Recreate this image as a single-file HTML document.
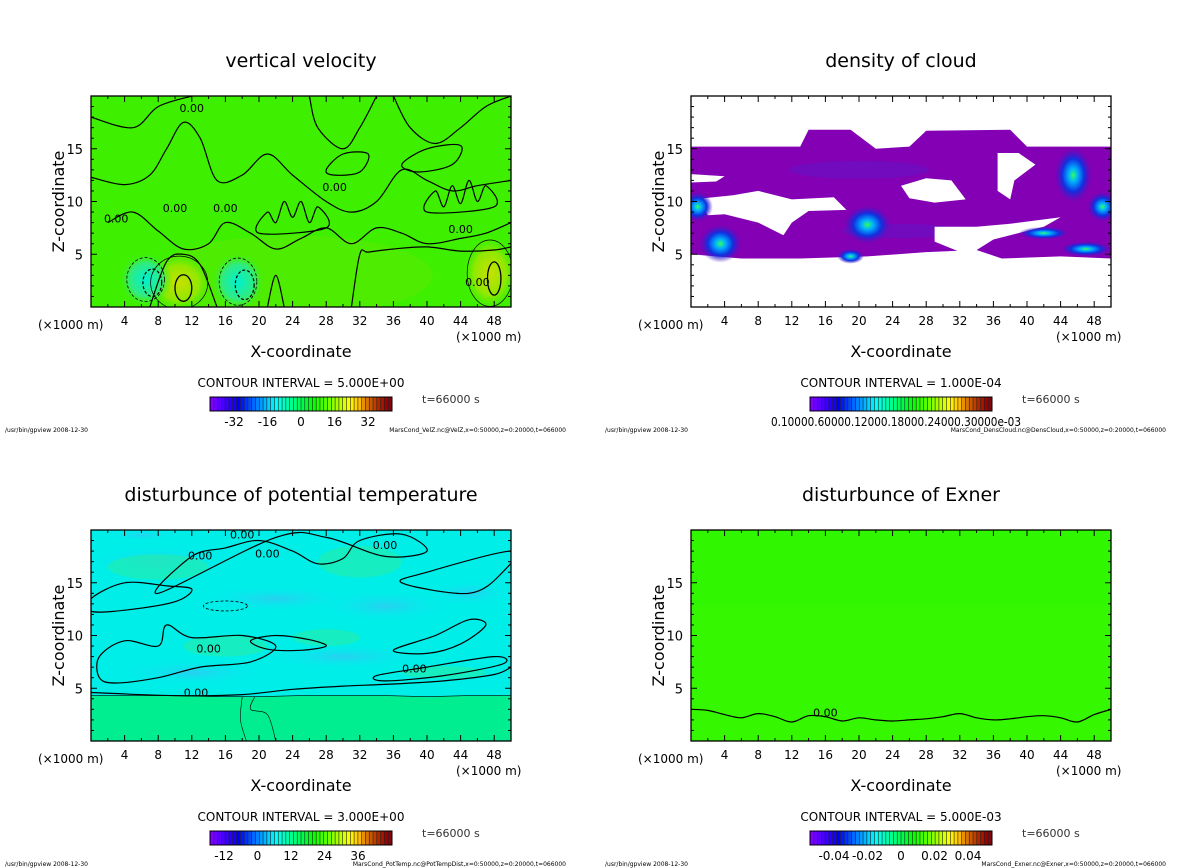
<!DOCTYPE html>
<html><head><meta charset="utf-8">
<style>
html,body{margin:0;padding:0;background:#fff;}
svg{display:block;font-family:"DejaVu Sans","Liberation Sans",sans-serif;}
</style></head>
<body>
<svg id="fig" width="1200" height="868" viewBox="0 0 1200 868" xmlns="http://www.w3.org/2000/svg">
<defs>
<radialGradient id="gy" cx="50%" cy="50%" r="50%"><stop offset="0" stop-color="#c8e000"/><stop offset="0.6" stop-color="#90e800"/><stop offset="1" stop-color="#44ee00" stop-opacity="0"/></radialGradient>
<radialGradient id="gc" cx="50%" cy="50%" r="50%"><stop offset="0" stop-color="#00f0d0"/><stop offset="0.6" stop-color="#30eb80"/><stop offset="1" stop-color="#44ee00" stop-opacity="0"/></radialGradient>
<radialGradient id="gb" cx="50%" cy="50%" r="50%"><stop offset="0" stop-color="#30ff60"/><stop offset="0.25" stop-color="#00b0ff"/><stop offset="0.6" stop-color="#1030e0"/><stop offset="1" stop-color="#5010c0" stop-opacity="0"/></radialGradient>
<radialGradient id="gs" cx="50%" cy="50%" r="50%"><stop offset="0" stop-color="#28d0f0"/><stop offset="1" stop-color="#00eeee" stop-opacity="0"/></radialGradient>
</defs>
<g id="root"></g>
</svg>
<script>
// ---- data ----
const xTickLabels = [4,8,12,16,20,24,28,32,36,40,44,48];
const zTickLabels = [5,10,15];
const titles = ["vertical velocity","density of cloud","disturbunce of potential temperature","disturbunce of Exner"];
const intervals = ["5.000E+00","1.000E-04","3.000E+00","5.000E-03"];
const cbLabels0 = [-32,-16,0,16,32];
const cbLabels2 = [-12,0,12,24,36];
const cbLabels3 = [-0.04,-0.02,0,0.02,0.04];
const footers = ["MarsCond_VelZ.nc@VelZ,x=0:50000,z=0:20000,t=066000","MarsCond_DensCloud.nc@DensCloud,x=0:50000,z=0:20000,t=066000","MarsCond_PotTemp.nc@PotTempDist,x=0:50000,z=0:20000,t=066000","MarsCond_Exner.nc@Exner,x=0:50000,z=0:20000,t=066000"];
const exnerX = [0,2,4,6,8,10,12,14,16,18,20,22,24,26,28,30,32,34,36,38,40,42,44,46,48,50];
const exnerZ = [3.0,2.9,2.5,2.2,2.6,2.3,1.8,2.4,2.3,1.9,2.2,2.0,1.9,2.0,2.1,2.3,2.6,2.2,2.0,2.1,2.3,2.4,2.2,1.8,2.5,3.0];
const thetaBaseX = [0,5,10,15,20,25,30,35,40,45,50];
const thetaBaseZ = [4.3,4.3,4.3,4.2,4.2,4.3,4.3,4.3,4.2,4.3,4.3];
const cloudTop = [[0,15.2],[13,15.2],[14,16.8],[19,16.8],[22,15.0],[26,15.2],[28,16.7],[38,16.8],[40,15.2],[50,15.2]];
const cloudBot = [[50,4.6],[44,4.8],[37,4.6],[34,5.4],[28,5.2],[21,4.8],[13,4.6],[6,4.6],[0,5.0]];
const cloudHoles = [
 [[0,12.6],[4,12.4],[3,11.9],[0,11.8]],
 [[1.5,10.3],[5,10.6],[8,11],[12,10.2],[17,10.4],[18.5,9.2],[14,9.1],[12,8],[11,6.8],[8,8],[4,8.8],[2,8.7],[1.5,9.4]],
 [[25,11.5],[28,12.2],[31,12.0],[32.7,10.2],[29,9.9],[26,10.3]],
 [[36.5,14.6],[39,14.6],[41,13.5],[38.5,12],[38,10.2],[36.5,11]],
 [[29,7.6],[34,7.6],[38,7.9],[44,8.5],[42,7.6],[36,6.4],[33,4.9],[29,6.2]]
];
const cloudCores = [[0.8,9.5,1.8,1.4],[3.5,6.0,2.5,1.8],[21,7.8,2.8,1.8],[19,4.8,1.6,0.7],[45.5,12.5,2.2,2.6],[49,9.5,1.8,1.4],[47,5.5,3,0.7],[42,7,3,0.6]];
const velYellow = [[10.5,2.3,4,2.8],[47.5,3.2,3.2,3.5]];
const velCyan = [[6.5,2.6,3.2,2.6],[17.5,2.4,3.2,2.8]];
const velContours = [
 [[0,12.3],[4,11.6],[7,12.5],[9,15],[11,17.5],[13,16],[15,12],[18,12.5],[21,14.5],[24,12.5],[28,10],[31,9],[34,10],[37,13],[40,12],[43,11],[46,11.5],[50,12]],
 [[2,8],[5,9],[8,7.2],[11,5.5],[14,6],[16,8],[19,7],[22,5.5],[25,6.5],[28,7.5],[31,6],[34,7.5],[37,7],[40,6],[44,6.5],[47,7],[50,8]],
 [[7,0],[9,4.3],[11,5],[13,4],[15,0]],[[21,0],[22,3],[23,0]],[[31,0],[32,5],[33,5.2],[36,5.5],[40,5.7],[44,5.3],[48,5.4],[50,5.7]],
 [[0,18],[5,17],[8,19],[12,20]],[[26,20],[27,17],[30,15],[32,17],[34,20]],[[36,20],[38,17],[41,15.5],[44,17],[47,19],[50,20]],
 [[20,7],[21,9],[22,8],[23,10],[24,8.5],[25,10],[26,8],[27,9.5],[28,7.5]],
 [[40,9],[41,11],[42,9.5],[43,11.5],[44,9.8],[45,12],[46,10],[47,11.5],[48,9.5]],
 [[28,13],[30,14.5],[33,14.5],[32,12.8],[29,12.5]],
 [[37,13.5],[40,15],[44,15.3],[43,13.5],[39,12.8]]
];
const thetaContours = [
 [[0,4.6],[10,4.3],[18,4.4],[24,4.9],[30,5.2],[36,5.4],[42,5.7],[48,6.3],[50,7]],
 [[0,13.5],[4,15],[9,14.7],[12,14.4],[10,13.2],[4,12.4],[0,12.3]],
 [[8,14],[12,17.5],[16,18.3],[20,19],[24,18],[27,16.8],[30,17.3],[32,19],[37,19.6],[40,18],[35,17.5],[28,19.3],[22,19.3]],
 [[1,8],[4,9.5],[8,9],[9,11],[12,9.8],[18,10],[22,9],[19,7.5],[13,7],[8,6],[3,5.5],[1,6]],
 [[37,15],[40,16],[50,18],[49,16],[45,14]],
 [[34,6.2],[40,7],[48,8],[49,7.3],[42,6.2],[35,5.7]],
 [[36,8.6],[41,10],[45,11.5],[47,11],[44,9.2],[40,8.3]],
 [[19,9.5],[22,10],[26,9.6],[28,9],[25,8.6],[21,8.7]]
];
const cbN = 48;

// ---- helpers ----
const NS="http://www.w3.org/2000/svg";
const root=document.getElementById('root');
function mk(tag,attrs,parent){const e=document.createElementNS(NS,tag);for(const k in attrs)e.setAttribute(k,attrs[k]);(parent||root).appendChild(e);return e;}
function txt(x,y,s,size,anchor,parent,extra){const t=mk('text',Object.assign({x:x,y:y,'font-size':size,'text-anchor':anchor||'middle',fill:'#000'},extra||{}),parent);t.textContent=s;return t;}
const panels=[{x0:91,y0:96},{x0:691,y0:96},{x0:91,y0:530},{x0:691,y0:530}];
const W=420,H=211;
function sx(p,x){return p.x0+x/50*W;}
function sy(p,z){return p.y0+H-z/20*H;}
function pathFrom(p,pts,close){return pts.map((q,i)=>(i?'L':'M')+sx(p,q[0]).toFixed(1)+' '+sy(p,q[1]).toFixed(1)).join(' ')+(close?'Z':'');}
function smoothPath(p,pts,close){
  const P=pts.map(q=>[sx(p,q[0]),sy(p,q[1])]);
  let d='M'+P[0][0].toFixed(1)+' '+P[0][1].toFixed(1);
  const n=P.length;
  for(let i=0;i<(close?n:n-1);i++){
    const p0=P[(i-1+n)%n],p1=P[i],p2=P[(i+1)%n],p3=P[(i+2)%n];
    const a=(!close&&i===0)?p1:p0,b=(!close&&i+2>=n)?p2:p3;
    const c1=[p1[0]+(p2[0]-a[0])/6,p1[1]+(p2[1]-a[1])/6],c2=[p2[0]-(b[0]-p1[0])/6,p2[1]-(b[1]-p1[1])/6];
    d+=' C'+c1.map(v=>v.toFixed(1)).join(' ')+' '+c2.map(v=>v.toFixed(1)).join(' ')+' '+p2.map(v=>v.toFixed(1)).join(' ');
  }
  return d+(close?'Z':'');
}

panels.forEach((p,i)=>{
  const g=mk('g',{});
  
  
  const t=txt(p.x0+W/2,p.y0-29,titles[i],19,'middle',g);
  
  
  const clipId='clip'+i;
  const cp=mk('clipPath',{id:clipId},g);mk('rect',{x:p.x0,y:p.y0,width:W,height:H},cp);
  const field=mk('g',{'clip-path':'url(#'+clipId+')'},g);
  
  
  if(i===0){
    mk('rect',{x:p.x0,y:p.y0,width:W,height:H,fill:'#3ef000'},field);
    mk('ellipse',{cx:sx(p,24),cy:sy(p,3),rx:140,ry:40,fill:'#5ee800',opacity:0.5},field);
    velYellow.forEach(v=>{const e=mk('ellipse',{cx:sx(p,v[0]),cy:sy(p,v[1]),rx:v[2]/50*W,ry:v[3]/20*H,fill:'url(#gy)'},field);});
    velCyan.forEach(v=>{const e=mk('ellipse',{cx:sx(p,v[0]),cy:sy(p,v[1]),rx:v[2]/50*W,ry:v[3]/20*H,fill:'url(#gc)'},field);
      mk('ellipse',{cx:sx(p,v[0]),cy:sy(p,v[1]),rx:v[2]/50*W*0.7,ry:v[3]/20*H*0.8,fill:'none',stroke:'#000','stroke-width':0.8,'stroke-dasharray':'3 2'},field);
      mk('ellipse',{cx:sx(p,v[0]+0.8),cy:sy(p,v[1]-0.3),rx:v[2]/50*W*0.35,ry:v[3]/20*H*0.5,fill:'none',stroke:'#000','stroke-width':1.2,'stroke-dasharray':'3 2'},field);});
    velYellow.forEach(v=>{mk('ellipse',{cx:sx(p,v[0]),cy:sy(p,v[1]),rx:v[2]/50*W*0.85,ry:v[3]/20*H*0.9,fill:'none',stroke:'#000','stroke-width':0.7},field);
      mk('ellipse',{cx:sx(p,v[0]+0.5),cy:sy(p,v[1]-0.5),rx:v[2]/50*W*0.25,ry:v[3]/20*H*0.45,fill:'none',stroke:'#000','stroke-width':1.3},field);});
    velContours.forEach((c,k)=>{const e=mk('path',{d:smoothPath(p,c,k>=8),fill:'none',stroke:'#000','stroke-width':1.2},field);});
    [[10,9],[16,9],[29,11],[46,2],[12,18.5],[3,8],[44,7]].forEach(q=>txt(sx(p,q[0]),sy(p,q[1]),'0.00',11,'middle',field));
  } else if(i===1){
    const band=mk('path',{d:pathFrom(p,cloudTop.concat(cloudBot),true),fill:'#8400b4'},field);
    
    mk('ellipse',{cx:sx(p,20),cy:sy(p,13),rx:70,ry:9,fill:'#6a10c0',opacity:0.7},field);
    mk('ellipse',{cx:sx(p,25),cy:sy(p,7.2),rx:60,ry:7,fill:'#6a10c0',opacity:0.7},field);
    cloudHoles.forEach(h=>{const e=mk('path',{d:pathFrom(p,h,true),fill:'#fff'},field);});
    cloudCores.forEach(c=>{const e=mk('ellipse',{cx:sx(p,c[0]),cy:sy(p,c[1]),rx:c[2]/50*W,ry:c[3]/20*H,fill:'url(#gb)'},field);});
  } else if(i===2){
    mk('rect',{x:p.x0,y:p.y0,width:W,height:H,fill:'#00eee8'},field);
    [[8,17,8,1.6],[22,13.5,9,1.2],[35,12.8,8,1.5],[12,6.5,9,1.2],[30,8,10,1.2],[45,14,5,1.2],[6,19.5,4,0.5]].forEach(c=>mk('ellipse',{cx:sx(p,c[0]),cy:sy(p,c[1]),rx:c[2]/50*W,ry:c[3]/20*H,fill:'url(#gs)'},field));
    [[8,16.5,6,1.2],[32,17,5,1.5],[28,9.8,4,0.8],[16,9,5,1],[42,6.5,5,0.6]].forEach(c=>mk('ellipse',{cx:sx(p,c[0]),cy:sy(p,c[1]),rx:c[2]/50*W,ry:c[3]/20*H,fill:'#20ecb0',opacity:0.7},field));
    const base=mk('path',{d:pathFrom(p,thetaBaseX.map((x,k)=>[x,thetaBaseZ[k]]).concat([[50,0],[0,0]]),true),fill:'#00ee90'},field);
    
    mk('path',{d:pathFrom(p,thetaBaseX.map((x,k)=>[x,thetaBaseZ[k]]),false),fill:'none',stroke:'#000','stroke-width':0.6},field);
    mk('path',{d:smoothPath(p,[[18,4.2],[17.8,2],[18.5,0]],false),fill:'none',stroke:'#000','stroke-width':0.6},field);
    mk('path',{d:smoothPath(p,[[19.5,4.2],[19,3],[21,2.5],[22,0]],false),fill:'none',stroke:'#000','stroke-width':0.6},field);
    thetaContours.forEach((c,k)=>{const e=mk('path',{d:smoothPath(p,c,k>0),fill:'none',stroke:'#000','stroke-width':1.2},field);});
    mk('ellipse',{cx:sx(p,16),cy:sy(p,12.8),rx:22,ry:5,fill:'none',stroke:'#000','stroke-width':0.8,'stroke-dasharray':'3 2'},field);
    [[12.5,4.3],[13,17.3],[21,17.5],[18,19.3],[35,18.3],[14,8.5],[38.5,6.6]].forEach(q=>{txt(sx(p,q[0]),sy(p,q[1])+1,'0.00',11,'middle',field);});
  } else {
    mk('rect',{x:p.x0,y:p.y0,width:W,height:H,fill:'#34f700'},field);
    mk('rect',{x:p.x0,y:p.y0,width:W,height:75,fill:'#2ef500',opacity:0.6},field);
    const ln=mk('path',{d:smoothPath(p,exnerX.map((x,k)=>[x,exnerZ[k]]),false),fill:'none',stroke:'#000','stroke-width':1.2},field);
    
    txt(sx(p,16),sy(p,2.6)+3,'0.00',11,'middle',field);
  }
  const fr=mk('rect',{x:p.x0,y:p.y0,width:W,height:H,fill:'none',stroke:'#000','stroke-width':1.3},g);
  
  for(let x=0;x<=50;x+=2){const L=(x%4===0)?6:3;mk('line',{x1:sx(p,x),x2:sx(p,x),y1:p.y0+H,y2:p.y0+H-L,stroke:'#000'},g);mk('line',{x1:sx(p,x),x2:sx(p,x),y1:p.y0,y2:p.y0+L,stroke:'#000'},g);}
  for(let z=0;z<=20;z++){const L=(z%5===0)?6:3;mk('line',{x1:p.x0,x2:p.x0+L,y1:sy(p,z),y2:sy(p,z),stroke:'#000'},g);mk('line',{x1:p.x0+W,x2:p.x0+W-L,y1:sy(p,z),y2:sy(p,z),stroke:'#000'},g);}
  xTickLabels.forEach(v=>{const t=txt(sx(p,v),p.y0+H+18,String(v),12,'middle',g);});
  zTickLabels.forEach(v=>{const t=txt(p.x0-8,sy(p,v)+5,String(v),13,'end',g);});
  txt(p.x0-53,p.y0+H+22,'(×1000 m)',12,'start',g);
  txt(p.x0+W-55,p.y0+H+34,'(×1000 m)',12,'start',g);
  const xt=txt(p.x0+W/2,p.y0+H+50,'X-coordinate',16,'middle',g);
  const zt=txt(0,0,'Z-coordinate',16,'middle',g,{transform:'translate('+(p.x0-27)+','+(p.y0+H/2)+') rotate(-90)'});
  const ci=txt(p.x0+210,p.y0+H+80,'CONTOUR INTERVAL = '+intervals[i],12,'middle',g);
  const cb=mk('g',{},g);
  const cx0=p.x0+119,cw=182,cy0=p.y0+H+90;
  for(let k=0;k<cbN;k++){const f=k/(cbN-1);const hue=f<0.15?270-f/0.15*30:240-(f-0.15)/0.85*245;const light=f>0.85?45-(f-0.85)*120:50;
    mk('rect',{x:cx0+k*cw/cbN,y:cy0,width:cw/cbN+0.3,height:14,fill:'hsl('+((hue+360)%360)+',100%,'+light+'%)'},cb);
    mk('line',{x1:cx0+k*cw/cbN,x2:cx0+k*cw/cbN,y1:cy0,y2:cy0+14,stroke:'#222','stroke-width':0.6},cb);}
  mk('rect',{x:cx0,y:cy0,width:cw,height:14,fill:'none',stroke:'#000'},cb);
  const labs=i===0?cbLabels0:i===2?cbLabels2:i===3?cbLabels3:null;
  if(labs){labs.forEach((v,k)=>{txt(cx0+24+k*(cw-48)/4+(i===2?-10:0),cy0+29,String(v),12,'middle',cb);});}
  else txt(cx0+86,cy0+29,'0.10000.60000.12000.18000.24000.30000e-03',12,'middle',cb,{textLength:250,lengthAdjust:'spacingAndGlyphs'});
  txt(p.x0+331,p.y0+H+96,'t=66000 s',11,'start',g,{fill:'#333'});
  txt(p.x0-86,p.y0+H+125,'/usr/bin/gpview   2008-12-30',6,'start',g);
  const ft=txt(p.x0+475,p.y0+H+125,footers[i],6,'end',g);
});
</script>
</body></html>
